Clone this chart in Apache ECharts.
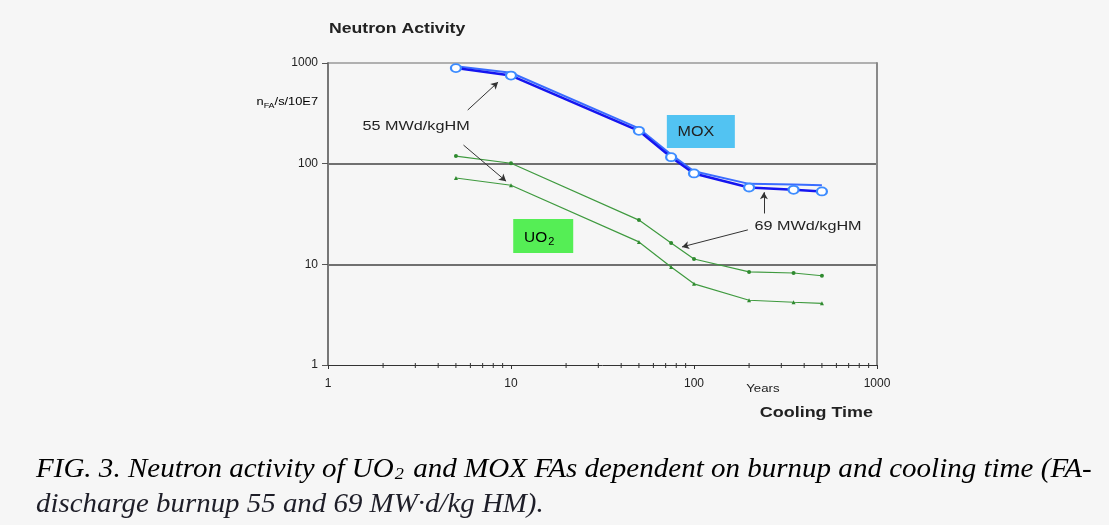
<!DOCTYPE html>
<html><head><meta charset="utf-8">
<script src="https://cdn.jsdelivr.net/npm/echarts@6/dist/echarts.min.js"></script>
<style>html,body{margin:0;padding:0;background:#f6f6f6}#c{width:1109px;height:525px}</style>
</head><body><div id="c"></div>
<script>
// ---- data ----
const coolingYears = [5, 10, 50, 75, 100, 200, 350, 500];
const mox69 = [930, 800, 224, 123, 84, 63, 62, 61];
const mox55 = [890, 750, 212, 116, 80, 58, 55, 53];
const uo2_69 = [119, 101, 27.5, 16.3, 11.3, 8.4, 8.2, 7.7];
const uo2_55 = [72, 61, 16.7, 9.4, 6.4, 4.4, 4.2, 4.1];
const xTickLabels = ['1', '10', '100', '1000'];
const yTickLabels = ['1', '10', '100', '1000'];
const xMinorTicks = [2,3,4,5,6,7,8,9,20,30,40,50,60,70,80,90,200,300,400,500,600,700,800,900];
// annotation anchors (data coordinates)
const arrows = [
  [[5.8, 341], [8.5, 646]],
  [[5.5, 153], [9.4, 67]],
  [[241, 32], [241, 52]],
  [[197, 22], [86, 14.9]]
];

const pair = (xs, ys) => xs.map((x, i) => [x, ys[i]]);
const FONT = '"Liberation Sans", Arial, sans-serif';
const SERIF = '"Liberation Serif", "Times New Roman", serif';
const chart = echarts.init(document.getElementById('c'), null, {renderer: 'canvas'});

const option = {
  backgroundColor: '#f6f6f6',
  animation: false,
  grid: {left: 328, right: 232, top: 63, bottom: 160, containLabel: false},
  xAxis: {
    type: 'log', min: 1, max: 1000, logBase: 10,
    axisLine: {lineStyle: {color: '#333', width: 1}},
    axisTick: {show: true, length: 4, lineStyle: {color: '#333'}},
    axisLabel: {margin: 13, fontFamily: FONT, fontSize: 12, color: '#222',
      formatter: v => xTickLabels.find(t => +t === Math.round(v)) || ''},
    splitLine: {show: false}
  },
  yAxis: [{
    type: 'log', min: 1, max: 1000, logBase: 10,
    axisLine: {show: true, lineStyle: {color: '#777', width: 2}},
    axisTick: {show: true, length: 6, lineStyle: {color: '#555'}},
    axisLabel: {margin: 10, fontFamily: FONT, fontSize: 12, color: '#222',
      formatter: v => yTickLabels.find(t => +t === Math.round(v)) || ''},
    splitLine: {show: true, lineStyle: {color: ['rgba(0,0,0,0)', '#707070', '#707070', '#b0b0b0'], width: 2}}
  }, {
    type: 'log', min: 1, max: 1000, logBase: 10, position: 'right',
    axisLine: {show: true, lineStyle: {color: '#8a8a8a', width: 2}},
    axisTick: {show: false}, axisLabel: {show: false}, splitLine: {show: false}
  }],
  series: [
    {
      name: 'UO2 55', type: 'line', data: pair(coolingYears, uo2_55),
      lineStyle: {color: '#3f9a3f', width: 1.2}, itemStyle: {color: '#2f8a2f'},
      symbol: 'triangle', symbolSize: 4, showSymbol: true, z: 3
    },
    {
      name: 'UO2 69', type: 'line', data: pair(coolingYears, uo2_69),
      lineStyle: {color: '#3f9a3f', width: 1.2}, itemStyle: {color: '#2f8a2f'},
      symbol: 'circle', symbolSize: 4, showSymbol: true, z: 3
    },
    {
      name: 'MOX 69', type: 'line', data: pair(coolingYears, mox69),
      lineStyle: {color: '#3a6cff', width: 2}, showSymbol: false, symbol: 'none', z: 4
    },
    {
      name: 'MOX 55', type: 'line', data: pair(coolingYears, mox55),
      lineStyle: {color: '#1515f0', width: 2.5},
      symbol: 'circle', symbolSize: [10, 8],
      itemStyle: {color: '#ffffff', borderColor: '#3d8cff', borderWidth: 2}, z: 5
    },
    {
      name: 'arrows', type: 'line', data: [], silent: true,
      markLine: {
        silent: true, symbol: ['none', 'arrow'], symbolSize: [6, 7],
        label: {show: false},
        lineStyle: {color: '#333', width: 1, type: 'solid'},
        data: arrows.map(a => [{coord: a[0]}, {coord: a[1]}])
      }
    },
    {
      name: 'minorTicks', type: 'custom', silent: true,
      data: xMinorTicks.map(v => [v, 1]),
      renderItem: (params, api) => {
        const p = api.coord([api.value(0), api.value(1)]);
        return {type: 'line', shape: {x1: p[0], y1: p[1] - 2, x2: p[0], y2: p[1] + 3},
          style: {stroke: '#333', lineWidth: 1}};
      }, z: 6
    }
  ]
};
chart.setOption(option);

// annotation text & boxes positioned via the axes
const px = (x, y) => chart.convertToPixel({gridIndex: 0}, [x, y]);
const lbl55 = px(3.03, 231);
const lbl69 = px(420, 23.5);
const moxC = px(109, 211);
const uoC = px(15, 19.1);
const yearsP = px(235, 1);
const endP = px(1000, 1);
const startP = px(1, 1000);
const nameP = px(1, 100);

chart.setOption({
  graphic: [
    {type: 'text', x: startP[0] + 1, y: 29, scaleX: 1.26, style: {text: 'Neutron Activity', font: 'bold 14px ' + FONT, fill: '#222', align: 'left', verticalAlign: 'middle'}},
    {type: 'text', x: lbl55[0], y: lbl55[1], scaleX: 1.35, style: {text: '55 MWd/kgHM', font: '12px ' + FONT, fill: '#222', align: 'center', verticalAlign: 'middle'}},
    {type: 'text', x: lbl69[0], y: lbl69[1], scaleX: 1.35, style: {text: '69 MWd/kgHM', font: '12px ' + FONT, fill: '#222', align: 'center', verticalAlign: 'middle'}},
    {type: 'rect', shape: {x: moxC[0] - 34, y: moxC[1] - 16, width: 68, height: 33}, style: {fill: '#52c3f2'}, z: 10},
    {type: 'text', x: moxC[0] - 5, y: moxC[1] + 1, scaleX: 1.15, z: 11, style: {text: 'MOX', font: '14px ' + FONT, fill: '#222', align: 'center', verticalAlign: 'middle'}},
    {type: 'rect', shape: {x: uoC[0] - 30, y: uoC[1] - 17, width: 60, height: 34}, style: {fill: '#55ee55'}, z: 10},
    {type: 'text', x: uoC[0] - 4, y: uoC[1] + 2, scaleX: 1.1, z: 11, style: {
      text: '{a|UO}{s|2}', align: 'center', verticalAlign: 'middle',
      rich: {a: {fontFamily: FONT, fontSize: 14, color: '#222'}, s: {fontFamily: FONT, fontSize: 10, color: '#222', padding: [9, 0, 0, 1]}}}},
    {type: 'text', x: 318, y: nameP[1] - 61, scaleX: 1.28, style: {
      text: '{a|n}{s|FA}{a|/s/10E7}', align: 'right', verticalAlign: 'middle',
      rich: {a: {fontFamily: FONT, fontSize: 10, color: '#222'}, s: {fontFamily: FONT, fontSize: 7, color: '#222', padding: [6, 0, 0, 0]}}}},
    {type: 'text', x: yearsP[0] + 1, y: yearsP[1] + 24, scaleX: 1.2, style: {text: 'Years', font: '11px ' + FONT, fill: '#222', align: 'center', verticalAlign: 'middle'}},
    {type: 'text', x: endP[0] - 4, y: endP[1] + 48, scaleX: 1.28, style: {text: 'Cooling Time', font: 'bold 14px ' + FONT, fill: '#222', align: 'right', verticalAlign: 'middle'}},
    {type: 'text', x: 36, y: 470, scaleX: 1.075, style: {
      text: '{a|FIG. 3. Neutron activity of UO}{s|2}{a| and MOX FAs dependent on burnup and cooling time (FA-}',
      verticalAlign: 'middle',
      rich: {a: {fontFamily: SERIF, fontStyle: 'italic', fontSize: 27, color: '#1e1e28'},
             s: {fontFamily: SERIF, fontStyle: 'italic', fontSize: 17, color: '#1e1e28', padding: [10, 2, 0, 1]}}}},
    {type: 'text', x: 36, y: 505, scaleX: 1.07, style: {
      text: 'discharge burnup 55 and 69 MW·d/kg HM).', verticalAlign: 'middle',
      font: 'italic 27px ' + SERIF, fill: '#1e1e28'}}
  ]
});
</script>
</body></html>
